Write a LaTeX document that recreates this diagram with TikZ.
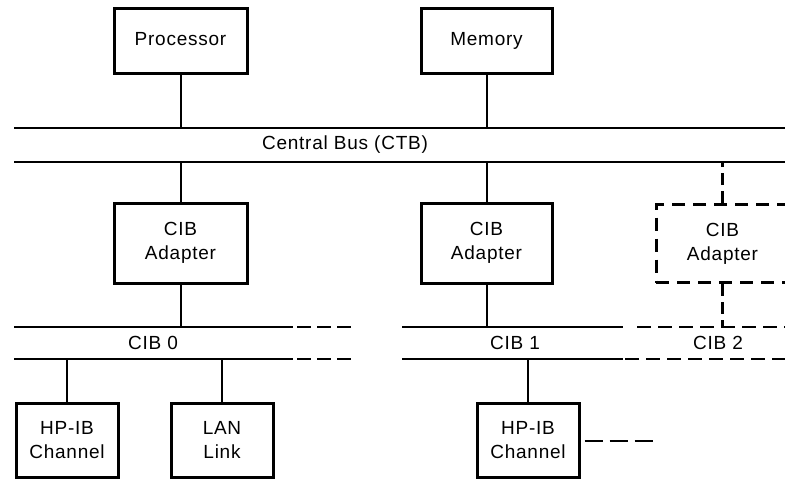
\documentclass[tikz,border=0pt]{standalone}
\usepackage{fontspec}
\setmainfont[LetterSpace=4]{Liberation Sans}
\begin{document}
\begin{tikzpicture}[x=1pt,y=-1pt,
  box/.style={draw,line width=3pt,inner sep=0pt,align=center,font=\fontsize{19}{24}\selectfont},
  dbox/.style={box,dash pattern=on 13pt off 8pt},
  lbl/.style={inner sep=0pt,font=\fontsize{19}{24}\selectfont},
  bus/.style={line width=2.4pt},
  dbus/.style={line width=2.6pt,dash pattern=on 14pt off 7pt},
  conn/.style={line width=2pt},
  dconn/.style={line width=2.6pt,dash pattern=on 12pt off 6pt}]
\useasboundingbox (0,0) rectangle (785,480);
\clip (0,0) rectangle (785,480);
% top boxes
\node[box,minimum width=133pt,minimum height=65pt,text height=13.7pt,text depth=4pt] (proc) at (180.5,40.5) {Processor};
\node[box,minimum width=131pt,minimum height=65pt,text height=13.7pt,text depth=4pt] (mem) at (486.5,40.5) {Memory};
% CTB
\coordinate (ctbTL) at (14,128);
\coordinate (ctbTR) at (790,128);
\coordinate (ctbBL) at (14,162);
\coordinate (ctbBR) at (790,162);
\draw[bus] (ctbTL) -- (ctbTR);
\draw[bus] (ctbBL) -- (ctbBR);
\node[lbl] (ctb) at (345,145) {Central Bus (CTB)};
% adapters
\node[box,minimum width=133pt,minimum height=80pt] (ad0) at (180.5,243) {CIB\\Adapter};
\node[box,minimum width=131pt,minimum height=80pt] (ad1) at (486.5,243) {CIB\\Adapter};
\node[dbox,minimum width=133pt,minimum height=78pt] (ad2) at (722.5,243.5) {CIB\\Adapter};
% connectors to CTB
\draw[conn] (proc.south) -- (proc.south |- ctbTL);
\draw[conn] (mem.south) -- (mem.south |- ctbTL);
\draw[conn] (ad0.north) -- (ad0.north |- ctbBL);
\draw[conn] (ad1.north) -- (ad1.north |- ctbBL);
\draw[dconn] (ad2.north) -- (ad2.north |- ctbBL);
% CIB 0
\coordinate (c0TL) at (14,327);
\coordinate (c0TS) at (293,327);
\coordinate (c0TE) at (352,327);
\coordinate (c0BL) at (14,359);
\coordinate (c0BS) at (293,359);
\coordinate (c0BE) at (352,359);
\draw[bus] (c0TL) -- (c0TS);
\draw[bus] (c0BL) -- (c0BS);
\draw[line width=1.8pt,dash pattern=on 14pt off 6pt] ([xshift=4pt]c0TS) -- (c0TE);
\draw[line width=1.8pt,dash pattern=on 14pt off 6pt] ([xshift=4pt]c0BS) -- (c0BE);
\node[lbl] (cib0) at (153,343) {CIB 0};
% CIB 1 / 2
\coordinate (c1TL) at (402,327);
\coordinate (c1TS) at (623,327);
\coordinate (c1TE) at (790,327);
\coordinate (c1BL) at (402,359);
\coordinate (c1BS) at (623,359);
\coordinate (c1BE) at (790,359);
\draw[bus] (c1TL) -- (c1TS);
\draw[bus] (c1BL) -- (c1BS);
\draw[dbus] ([xshift=14pt]c1TS) -- (c1TE);
\draw[dbus] ([xshift=2pt]c1BS) -- (c1BE);
\node[lbl] (cib1) at (515,343) {CIB 1};
\node[lbl] (cib2) at (718,343) {CIB 2};
% adapter to CIB connectors
\draw[conn] (ad0.south) -- (ad0.south |- c0TL);
\draw[conn] (ad1.south) -- (ad1.south |- c1TL);
\draw[dconn] (ad2.south) -- (ad2.south |- c1TL);
% bottom boxes
\node[box,minimum width=102pt,minimum height=74pt] (hp0) at (67,440) {HP-IB\\Channel};
\node[box,minimum width=102pt,minimum height=74pt] (lan) at (222,440) {LAN\\Link};
\node[box,minimum width=102pt,minimum height=74pt] (hp1) at (528,440) {HP-IB\\Channel};
\draw[conn] (hp0.north) -- (hp0.north |- c0BL);
\draw[conn] (lan.north) -- (lan.north |- c0BL);
\draw[conn] (hp1.north) -- (hp1.north |- c1BL);
\coordinate (hpend) at (655,441);
\draw[line width=2.8pt,dash pattern=on 18pt off 7pt] ([xshift=4pt]hp1.east |- hpend) -- (hpend);
\end{tikzpicture}
\end{document}
